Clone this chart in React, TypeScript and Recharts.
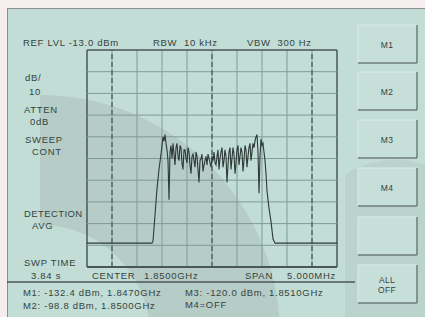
import React from 'react';
import { LineChart, Line, XAxis, YAxis, ReferenceLine } from 'recharts';

// ---- data ----
const xGridMHz = [1847.5, 1848.0, 1848.5, 1849.0, 1849.5, 1850.0, 1850.5, 1851.0, 1851.5, 1852.0, 1852.5];
const yGridDbm = [-13, -23, -33, -43, -53, -63, -73, -83, -93, -103, -113];
const markerMHz = [1848.0, 1850.0, 1852.0];

// spectrum trace: [frequency MHz, level dBm]
const trace: [number, number][] = [
  [1847.5, -102], [1848.8, -102], [1848.82, -101], [1848.86, -89], [1848.9, -77], [1848.94, -68],
  [1848.98, -61], [1849.02, -53], [1849.04, -55], [1849.06, -52], [1849.08, -56], [1849.1, -59],
  [1849.12, -64], [1849.14, -82], [1849.16, -60],
  [1849.18, -57], [1849.2, -63], [1849.22, -56], [1849.24, -61], [1849.26, -66], [1849.28, -58],
  [1849.3, -56], [1849.32, -62], [1849.34, -64], [1849.36, -57], [1849.38, -58], [1849.4, -65],
  [1849.42, -68], [1849.44, -59], [1849.46, -59], [1849.48, -63], [1849.5, -65], [1849.52, -58],
  [1849.54, -60], [1849.56, -66], [1849.58, -70], [1849.6, -62], [1849.62, -61], [1849.64, -64],
  [1849.66, -67], [1849.68, -60], [1849.7, -62], [1849.72, -68], [1849.74, -74], [1849.76, -64],
  [1849.78, -63], [1849.8, -61], [1849.82, -69], [1849.84, -66], [1849.86, -64], [1849.88, -62],
  [1849.9, -66], [1849.92, -61], [1849.94, -63], [1849.96, -65], [1849.98, -67], [1850.0, -62],
  [1850.02, -64], [1850.04, -60], [1850.06, -65], [1850.08, -66], [1850.1, -62], [1850.12, -59],
  [1850.14, -68], [1850.16, -63], [1850.18, -60], [1850.2, -58], [1850.22, -67], [1850.24, -64],
  [1850.26, -59], [1850.28, -62], [1850.3, -74], [1850.32, -66], [1850.34, -60], [1850.36, -58],
  [1850.38, -68], [1850.4, -63], [1850.42, -58], [1850.44, -61], [1850.46, -70], [1850.48, -65],
  [1850.5, -59], [1850.52, -57], [1850.54, -66], [1850.56, -62], [1850.58, -58], [1850.6, -60],
  [1850.62, -69], [1850.64, -64], [1850.66, -57], [1850.68, -59], [1850.7, -67], [1850.72, -62],
  [1850.74, -58], [1850.76, -56], [1850.78, -64], [1850.8, -60], [1850.82, -56], [1850.84, -58],
  [1850.86, -55], [1850.88, -53], [1850.9, -52], [1850.92, -60], [1850.94, -79], [1850.96, -62],
  [1850.98, -54], [1851.0, -57], [1851.02, -56], [1851.04, -60], [1851.06, -64], [1851.08, -70],
  [1851.1, -78], [1851.14, -86], [1851.18, -92], [1851.22, -100], [1851.26, -102], [1852.5, -102],
];

const headerTexts = ['REF LVL -13.0 dBm', 'RBW  10 kHz', 'VBW  300 Hz'];
const sideTexts = ['dB/', '10', 'ATTEN', '0dB', 'SWEEP', 'CONT', 'DETECTION', 'AVG', 'SWP TIME', '3.84 s'];
const footerTexts = ['CENTER', '1.8500GHz', 'SPAN', '5.000MHz'];
const markerTexts = ['M1: -132.4 dBm, 1.8470GHz', 'M2: -98.8 dBm, 1.8500GHz', 'M3: -120.0 dBm, 1.8510GHz', 'M4=OFF'];
const buttonLabels = [['M1'], ['M2'], ['M3'], ['M4'], [], ['ALL', 'OFF']];

const data = trace.map(([f, v]) => ({ f, v }));

const BG = '#c1ddd5';
const GRID = '#7f9c95';
const DARK = '#4a5754';
const TXT = '#37423f';
const FONT = '"Liberation Sans", Arial, sans-serif';

const W = 425;
const H = 317;

export default function App() {
  const sidePos: [number, number][] = [
    [25, 77], [29, 91], [24, 109], [30, 121], [25, 139], [32, 151], [24, 213], [32, 225], [24, 262], [31, 275],
  ];
  const headerPos: [number, number][] = [[23, 42], [153, 42], [247, 42]];
  const footerPos: [number, number, string][] = [[92, 275, 'start'], [144, 275, 'start'], [245, 275, 'start'], [336, 275, 'end']];
  const markerPos: [number, number][] = [[23, 292], [23, 305], [185, 292], [185, 304]];
  const btnY = [25, 72, 120, 168, 217, 265];
  return (
    <div style={{ position: 'absolute', left: 0, top: 0, width: W, height: H, background: '#f6eeee', overflow: 'hidden' }}>
      <div style={{ position: 'absolute', left: 7, top: 8, width: W - 7, height: H - 8, background: BG, borderLeft: '1px solid #8a8f8e', borderTop: '1px solid #8a8f8e' }} />
      <svg width={W} height={H} style={{ position: 'absolute', left: 0, top: 0 }}>
        <path d="M 40 95 A 240 240 0 0 1 280 335 L 150 335 A 110 110 0 0 0 40 225 Z" fill="#8d8a8a" opacity={0.2} />
        <path d="M 345 175 A 90 90 0 0 1 425 165 L 425 317 L 345 317 Z" fill="#8d8a8a" opacity={0.12} />
      </svg>
      <div style={{ position: 'absolute', left: 0, top: 0 }}>
        <LineChart width={W} height={H} data={data} margin={{ top: 50, left: 87, right: W - 337, bottom: H - 267 }}>
          <XAxis dataKey="f" type="number" domain={[1847.5, 1852.5]} hide allowDataOverflow />
          <YAxis type="number" domain={[-113, -13]} hide allowDataOverflow />
          {xGridMHz.map((x, i) => (
            <ReferenceLine key={'vx' + i} x={x} stroke={i === 0 || i === xGridMHz.length - 1 ? DARK : GRID} strokeWidth={i === 0 || i === xGridMHz.length - 1 ? 1.5 : 1} />
          ))}
          {yGridDbm.map((y, i) => (
            <ReferenceLine key={'hy' + i} y={y} stroke={i === 0 || i === yGridDbm.length - 1 ? DARK : GRID} strokeWidth={i === yGridDbm.length - 1 ? 2 : i === 0 ? 1.5 : 1} />
          ))}
          {markerMHz.map((x, i) => (
            <ReferenceLine key={'mk' + i} x={x} stroke={DARK} strokeWidth={1.2} strokeDasharray="5 3" />
          ))}
          <Line dataKey="v" type="linear" stroke="#2e3a37" strokeWidth={1.1} dot={false} isAnimationActive={false} />
        </LineChart>
      </div>
      <svg width={W} height={H} style={{ position: 'absolute', left: 0, top: 0 }} fontFamily={FONT} fontSize={9.5} fill={TXT} letterSpacing={0.7}>
        {headerTexts.map((t, i) => (
          <text key={'h' + i} x={headerPos[i][0]} y={headerPos[i][1] + 3.5} xmlSpace="preserve">{t}</text>
        ))}
        {sideTexts.map((t, i) => (
          <text key={'s' + i} x={sidePos[i][0]} y={sidePos[i][1] + 3.5} letterSpacing={i === 6 ? 0.4 : 0.7}>{t}</text>
        ))}
        {footerTexts.map((t, i) => (
          <text key={'f' + i} x={footerPos[i][0]} y={footerPos[i][1] + 3.5} textAnchor={footerPos[i][2] as any}>{t}</text>
        ))}
        <line x1={7} x2={355} y1={282} y2={282} stroke={DARK} strokeWidth={1.5} />
        {markerTexts.map((t, i) => (
          <text key={'m' + i} x={markerPos[i][0]} y={markerPos[i][1] + 3.5}>{t}</text>
        ))}
        {btnY.map((y, i) => (
          <g key={'b' + i}>
            <rect x={358} y={y} width={59} height={38} fill="#c6e0d9" />
            <line x1={358} x2={358} y1={y} y2={y + 38} stroke="#d8ebe6" strokeWidth={1} />
            <line x1={358} x2={417} y1={y} y2={y} stroke="#d8ebe6" strokeWidth={1} />
            <line x1={417} x2={417} y1={y} y2={y + 38} stroke="#6f7d7a" strokeWidth={1.5} />
            <line x1={358} x2={417} y1={y + 38} y2={y + 38} stroke="#6f7d7a" strokeWidth={1.5} />
            {buttonLabels[i].map((lab, j) => (
              <text key={j} x={387} y={y + 19 + 3.5 + (j - (buttonLabels[i].length - 1) / 2) * 10} textAnchor="middle" fontSize={8.5} letterSpacing={0.3}>{lab}</text>
            ))}
          </g>
        ))}
      </svg>
    </div>
  );
}
